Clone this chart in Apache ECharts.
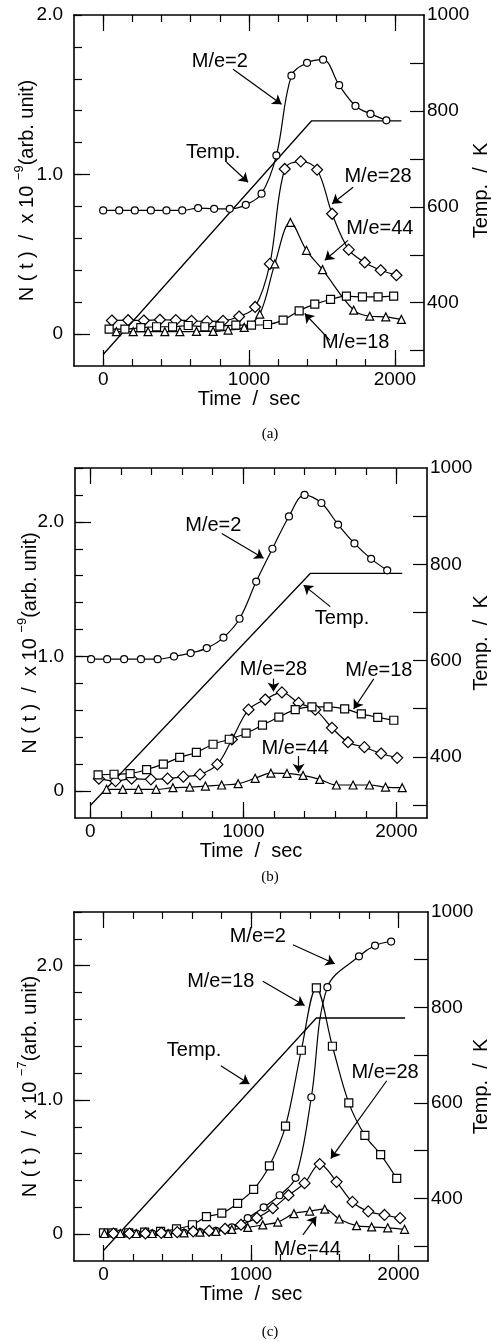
<!DOCTYPE html>
<html>
<head>
<meta charset="utf-8">
<script src="https://cdn.jsdelivr.net/npm/echarts@6/dist/echarts.min.js"></script>
<style>
html,body{margin:0;padding:0;background:#fff;}
#chart{width:492px;height:1341px;}
</style>
</head>
<body>
<div id="chart"></div>
<script>
// ---------------- DATA ----------------
// Panel (a)
const a_me2_t  = [0,110,217,327,434,542,651,761,868,978,1086,1188,1291,1398,1508,1618,1730,1833,1942];
const a_me2_v  = [0.775,0.775,0.775,0.775,0.775,0.775,0.79,0.785,0.785,0.81,0.88,1.12,1.62,1.70,1.72,1.56,1.43,1.38,1.34];
const a_me28_t = [60,171,279,389,498,606,713,822,932,1042,1143,1245,1355,1467,1570,1684,1794,1903,2011];
const a_me28_v = [0.085,0.087,0.085,0.09,0.088,0.083,0.08,0.083,0.11,0.17,0.44,1.035,1.083,1.03,0.754,0.529,0.449,0.40,0.369];
const a_me44_t = [91,206,308,423,526,640,754,857,967,1074,1177,1284,1394,1504,1718,1828,1938,2045];
const a_me44_v = [0.015,0.015,0.015,0.015,0.015,0.017,0.017,0.025,0.042,0.125,0.44,0.70,0.525,0.404,0.15,0.112,0.108,0.092];
const a_me18_t = [41,149,258,366,476,583,697,800,910,1017,1127,1234,1344,1451,1559,1668,1778,1885,1992];
const a_me18_v = [0.031,0.031,0.04,0.046,0.046,0.054,0.046,0.05,0.056,0.056,0.06,0.0875,0.146,0.1875,0.217,0.2375,0.233,0.233,0.2375];
const a_temp_t = [0,1428,2045];
const a_temp_v = [292,779,779];

// Panel (b)
const b_me2_t  = [5,110,221,331,440,547,656,761,870,975,1084,1190,1298,1400,1510,1619,1726,1835,1940];
const b_me2_v  = [0.98,0.98,0.98,0.98,0.98,1.0,1.025,1.062,1.14,1.28,1.556,1.80,2.04,2.20,2.14,1.98,1.84,1.725,1.64];
const b_me28_t = [56,165,270,396,505,608,717,830,925,1034,1143,1252,1361,1470,1579,1684,1791,1900,2005];
const b_me28_v = [0.092,0.074,0.092,0.087,0.092,0.107,0.124,0.198,0.383,0.605,0.68,0.733,0.655,0.605,0.47,0.363,0.326,0.279,0.247];
const b_me18_t = [51,155,260,368,477,584,693,802,908,1018,1125,1232,1339,1448,1553,1662,1771,1878,1983];
const b_me18_v = [0.12,0.125,0.13,0.16,0.2,0.25,0.287,0.348,0.385,0.43,0.49,0.55,0.605,0.625,0.625,0.61,0.573,0.548,0.526];
const b_me44_t = [106,212,315,430,540,650,752,858,966,1077,1180,1285,1390,1499,1608,1717,1824,1929,2038];
const b_me44_v = [0.013,0.013,0.013,0.013,0.025,0.03,0.037,0.045,0.055,0.095,0.133,0.131,0.116,0.087,0.045,0.045,0.045,0.03,0.025];
const b_temp_t = [0,1437,2038];
const b_temp_v = [299,781,781];

// Panel (c)
const c_me2_t  = [6,114,222,330,438,546,654,762,870,978,1086,1194,1302,1409,1518,1732,1841,1950];
const c_me2_v  = [0.005,0.005,0.005,0.005,0.005,0.01,0.015,0.025,0.05,0.12,0.2,0.29,0.42,1.02,1.84,2.07,2.15,2.18];
const c_me18_t = [0,63,171,279,387,495,603,698,802,909,1018,1125,1234,1341,1443,1552,1663,1772,1879,1988];
const c_me18_v = [0.01,0.01,0.01,0.015,0.02,0.04,0.07,0.13,0.156,0.23,0.333,0.509,0.805,1.37,1.835,1.40,0.978,0.736,0.593,0.415];
const c_me28_t = [68,176,284,392,500,608,716,824,932,1040,1148,1254,1363,1466,1580,1688,1795,1905,2011];
const c_me28_v = [0.005,0.005,0.005,0.01,0.015,0.02,0.025,0.04,0.07,0.12,0.193,0.29,0.38,0.522,0.39,0.24,0.17,0.143,0.119];
const c_me44_t = [6,114,222,330,438,546,654,762,870,978,1080,1182,1291,1398,1500,1598,1716,1818,1927,2041];
const c_me44_v = [0.005,0.005,0.005,0.005,0.005,0.01,0.015,0.02,0.035,0.05,0.069,0.09,0.153,0.172,0.186,0.113,0.063,0.054,0.047,0.036];
const c_temp_t = [0,1443,2045];
const c_temp_v = [291,778,778];

// Annotations: [time, value(left axis), text] and arrows [[t1,v1],[t2,v2]]
const a_labels = [[800,1.71,'M/e=2'],[754,1.14,'Temp.'],[1885,0.99,'M/e=28'],[1897,0.66,'M/e=44'],[1732,-0.052,'M/e=18']];
const a_arrows = [[[891,1.66],[1223,1.44]],[[846,1.077],[994,0.952]],[[1714,0.92],[1570,0.817]],[[1679,0.5875],[1520,0.4625]],[[1554,-0.0375],[1382,0.129]]];
const b_labels = [[804,1.975,'M/e=2'],[1645,1.284,'Temp.'],[1197,0.90,'M/e=28'],[1885,0.896,'M/e=18'],[1339,0.32,'M/e=44']];
const b_arrows = [[[859,1.914],[1132,1.729]],[[1568,1.37],[1394,1.53]],[[1197,0.835],[1197,0.74]],[[1852,0.833],[1721,0.61]],[[1361,0.26],[1361,0.136]]];
const c_labels = [[1046,2.217,'M/e=2'],[795,1.884,'M/e=18'],[614,1.365,'Temp.'],[1909,1.205,'M/e=28'],[1382,-0.116,'M/e=44']];
const c_arrows = [[[1284,2.156],[1568,2.015]],[[1080,1.884],[1363,1.704]],[[795,1.254],[989,1.119]],[[1920,1.143],[1541,0.563]],[[1352,-0.005],[1443,0.131]]];

// Tick labels
const xTickLabels = [0,1000,2000];
const yLeftTickLabels = [0,1,2];
const yRightTickLabels = [400,600,800,1000];

// ---------------- LAYOUT ----------------
const FONT = "'Liberation Sans', Arial, sans-serif";
const panels = [
  {grid:{left:74, top:15, width:350, height:351}, xMin:-200, xMax:2200, yMax:2.0, tMin:268, exp:'\u22129', cap:'(a)', capY:434,
   titleLeftX:25, titleRightX:481,
   s:[[a_me2_t,a_me2_v,'circle',7],[a_me28_t,a_me28_v,'diamond',11],[a_me44_t,a_me44_v,'triangle',8],[a_me18_t,a_me18_v,'rect',8]],
   temp:[a_temp_t,a_temp_v], labels:a_labels, arrows:a_arrows},
  {grid:{left:75, top:468, width:352, height:350}, xMin:-100, xMax:2200, yMax:2.4, tMin:273, exp:'\u22129', cap:'(b)', capY:877,
   titleLeftX:28, titleRightX:481,
   s:[[b_me2_t,b_me2_v,'circle',7],[b_me28_t,b_me28_v,'diamond',11],[b_me18_t,b_me18_v,'rect',8],[b_me44_t,b_me44_v,'triangle',8]],
   temp:[b_temp_t,b_temp_v], labels:b_labels, arrows:b_arrows},
  {grid:{left:74, top:912, width:354, height:349}, xMin:-200, xMax:2200, yMax:2.4, tMin:269, exp:'\u22127', cap:'(c)', capY:1332,
   titleLeftX:28, titleRightX:481,
   s:[[c_me2_t,c_me2_v,'circle',7],[c_me18_t,c_me18_v,'rect',8],[c_me28_t,c_me28_v,'diamond',11],[c_me44_t,c_me44_v,'triangle',8]],
   temp:[c_temp_t,c_temp_v], labels:c_labels, arrows:c_arrows}
];

function range(a,b,s){const r=[];for(let v=a;v<=b+1e-9;v+=s) r.push(Math.round(v*1000)/1000);return r;}
const BLACK='#000';
const lineBase={color:BLACK,width:1.6};
const tickBase={color:BLACK,width:1.2};

const grids=[], xAxes=[], yAxes=[], series=[], graphics=[];
panels.forEach((p,g)=>{
  grids.push(Object.assign({containLabel:false}, p.grid));
  const xMinor = range(0,2200,200).filter(v=>v>p.xMin && v<p.xMax);
  ['bottom','top'].forEach(pos=>{
    xAxes.push({type:'value', gridIndex:g, position:pos, min:p.xMin, max:p.xMax,
      axisLine:{show:true,onZero:false,lineStyle:lineBase},
      axisTick:{show:true,inside:true,length:7,customValues:xMinor,lineStyle:tickBase},
      axisLabel:{show:pos==='bottom',customValues:xTickLabels,margin:4,fontSize:19,fontFamily:FONT,color:BLACK,
        formatter:v=>String(Math.round(v))},
      splitLine:{show:false},
      name: pos==='bottom' ? 'Time  /  sec' : '', nameLocation:'middle', nameGap:22,
      nameTextStyle:{fontSize:20,fontFamily:FONT,color:BLACK}});
    xAxes.push({type:'value', gridIndex:g, position:pos, min:p.xMin, max:p.xMax,
      axisLine:{show:false,onZero:false},
      axisTick:{show:true,inside:true,length:16,customValues:xTickLabels,lineStyle:tickBase},
      axisLabel:{show:false}, splitLine:{show:false}});
  });
  const xi = g*4; // main bottom axis
  yAxes.push({type:'value', gridIndex:g, position:'left', min:-0.2, max:p.yMax,
    axisLine:{show:true,onZero:false,lineStyle:lineBase},
    axisTick:{show:true,inside:true,length:8,customValues:range(0,p.yMax,0.2),lineStyle:tickBase},
    axisLabel:{show:true,customValues:yLeftTickLabels,margin:11,fontSize:19,fontFamily:FONT,color:BLACK,
      formatter:v=> v===0 ? '0' : v.toFixed(1)},
    splitLine:{show:false}});
  yAxes.push({type:'value', gridIndex:g, position:'left', min:-0.2, max:p.yMax,
    axisLine:{show:false,onZero:false},
    axisTick:{show:true,inside:true,length:16,customValues:yLeftTickLabels.filter(v=>v<p.yMax),lineStyle:tickBase},
    axisLabel:{show:false}, splitLine:{show:false}});
  yAxes.push({type:'value', gridIndex:g, position:'right', min:p.tMin, max:1000,
    axisLine:{show:true,onZero:false,lineStyle:lineBase},
    axisTick:{show:true,inside:true,length:14,customValues:range(300,900,100),lineStyle:tickBase},
    axisLabel:{show:true,customValues:yRightTickLabels,margin:3,fontSize:19,fontFamily:FONT,color:BLACK,
      formatter:v=>String(Math.round(v))},
    splitLine:{show:false}});
  const yl = g*3, yr = g*3+2;

  p.s.forEach(([t,v,sym,size])=>{
    series.push({type:'line', xAxisIndex:xi, yAxisIndex:yl, data:t.map((x,i)=>[x,v[i]]),
      symbol:sym, symbolSize:size, showSymbol:true, smooth:0.35,
      lineStyle:{color:BLACK,width:1.2}, itemStyle:{color:'#fff',borderColor:BLACK,borderWidth:1.2}, z:3});
  });
  series.push({type:'line', xAxisIndex:xi, yAxisIndex:yr, data:p.temp[0].map((x,i)=>[x,p.temp[1][i]]),
    symbol:'none', lineStyle:{color:BLACK,width:1.3}, z:2});
  series.push({type:'scatter', xAxisIndex:xi, yAxisIndex:yl, symbolSize:1, z:5, silent:true,
    itemStyle:{color:'#fff',opacity:0},
    label:{show:true,position:'inside',formatter:'{b}',fontSize:20,fontFamily:FONT,color:BLACK,
      opacity:1,textBorderWidth:0,textShadowBlur:0},
    data:p.labels.map(l=>({value:[l[0],l[1]],name:l[2]})),
    markLine:{silent:true, symbol:['none','arrow'], symbolSize:9, label:{show:false}, animation:false,
      lineStyle:{color:BLACK,width:1.2,type:'solid',opacity:1},
      data:p.arrows.map(a=>[{coord:a[0]},{coord:a[1]}])}});

  const midY = p.grid.top + p.grid.height/2;
  graphics.push({type:'text', x:p.titleLeftX, y:midY, rotation:Math.PI/2, silent:true,
    style:{text:'{a|N ( t )  /  x 10 }{s|'+p.exp+'}{a|(arb. unit)}', align:'center', verticalAlign:'middle', fill:BLACK,
      rich:{a:{fontSize:20,fontFamily:FONT,fill:BLACK,lineHeight:24,verticalAlign:'bottom'},
            s:{fontSize:13,fontFamily:FONT,fill:BLACK,lineHeight:13,verticalAlign:'top'}}}});
  graphics.push({type:'text', x:p.titleRightX, y:midY, rotation:Math.PI/2, silent:true,
    style:{text:'Temp.  /  K', fontSize:20, fontFamily:FONT, fill:BLACK, align:'center', verticalAlign:'middle'}});
  graphics.push({type:'text', x:270, y:p.capY, silent:true, style:{text:p.cap, fontSize:15, fontFamily:"'Liberation Serif', serif",
    fill:BLACK, align:'center', verticalAlign:'middle'}});
});

const chart = echarts.init(document.getElementById('chart'), null, {renderer:'canvas'});
chart.setOption({animation:false, backgroundColor:'#fff', grid:grids, xAxis:xAxes, yAxis:yAxes, series:series, graphic:graphics});
</script>
</body>
</html>
